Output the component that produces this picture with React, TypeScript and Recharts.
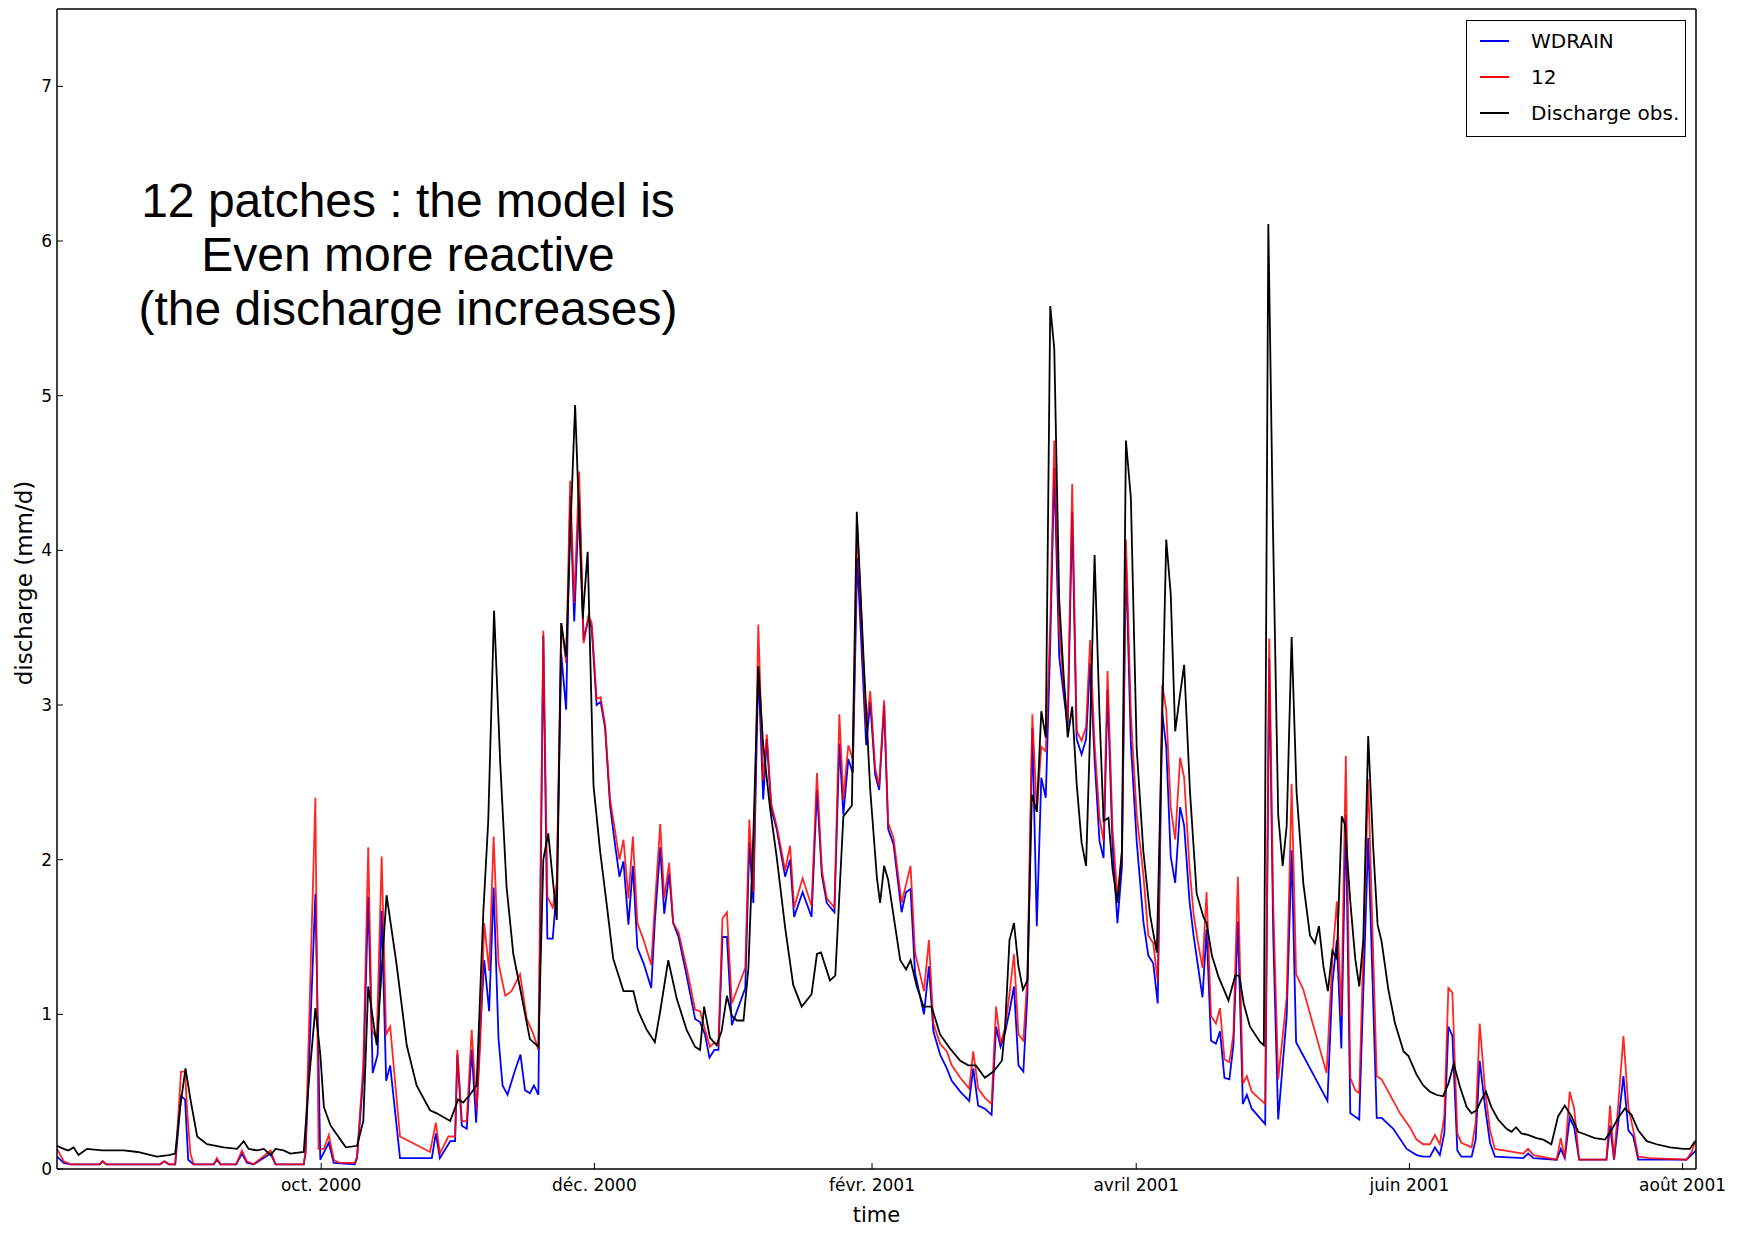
import React from 'react';
import { LineChart, Line, XAxis, YAxis } from 'recharts';

// day 0 = 3 Aug 2000, one step per day
const WDRAIN: [number, number][] = [
  [0, 0.08], [1.5, 0.04], [3, 0.03], [9.5, 0.03], [10.2, 0.05], [11, 0.03], [23, 0.03], [24, 0.05], [25, 0.03],
  [26.4, 0.03], [27.7, 0.47], [28.6, 0.45], [29.3, 0.06], [30.5, 0.03], [35, 0.03], [35.7, 0.06], [36.5, 0.03],
  [40, 0.03], [41.3, 0.1], [42.4, 0.04], [43.9, 0.03], [47.7, 0.1], [48.8, 0.03], [55.1, 0.03], [55.5, 0.1],
  [57.7, 1.78], [58.8, 0.06], [60.7, 0.17], [61.8, 0.04], [66.5, 0.03], [67, 0.07], [68.4, 0.6], [69.5, 1.76],
  [70.5, 0.62], [71.6, 0.74], [72.5, 1.67], [73.5, 0.57], [74.4, 0.67], [76.6, 0.07], [83.7, 0.07], [84.6, 0.23],
  [85.5, 0.07], [87.8, 0.18], [88.9, 0.18], [89.4, 0.74], [90.4, 0.28], [91.5, 0.26], [92.6, 0.77], [93.6, 0.3],
  [94.5, 0.9], [95.4, 1.35], [96.5, 1.02], [97.5, 1.82], [98.6, 0.84], [99.5, 0.54], [100.6, 0.48], [102.3, 0.64],
  [103.5, 0.74], [104.5, 0.51], [105.6, 0.49], [106.5, 0.54], [107.5, 0.48], [108.6, 3.45], [109.5, 1.49],
  [110.7, 1.49], [111.6, 1.82], [112.6, 3.33], [113.7, 2.97], [114.6, 4.35], [115.5, 3.54], [116.6, 4.35],
  [117.6, 3.42], [118.7, 3.56], [119.4, 3.5], [120.5, 3.0], [121.4, 3.02], [122.4, 2.85], [123.5, 2.35],
  [124.6, 2.1], [125.6, 1.89], [126.5, 1.99], [127.6, 1.58], [128.6, 1.96], [129.6, 1.43], [131, 1.33],
  [132.7, 1.17], [133.5, 1.6], [134.7, 2.08], [135.6, 1.65], [136.7, 1.91], [137.6, 1.59], [138.8, 1.5],
  [140.6, 1.25], [142.5, 0.97], [143.6, 0.95], [144.7, 0.87], [145.7, 0.72], [146.8, 0.77], [147.7, 0.77],
  [148.6, 1.5], [149.6, 1.5], [150.7, 0.93], [153.7, 1.17], [154.6, 2.11], [155.5, 1.72], [156.6, 3.25],
  [157.7, 2.39], [158.5, 2.78], [159.5, 2.33], [160.7, 2.2], [162.6, 1.89], [163.7, 2.0], [164.6, 1.63],
  [166.5, 1.79], [168.5, 1.63], [169.7, 2.45], [170.8, 1.9], [171.9, 1.72], [173.6, 1.66], [174.7, 2.75],
  [175.6, 2.29], [176.7, 2.65], [177.7, 2.56], [178.7, 3.95], [180.7, 2.74], [181.6, 3.02], [182.7, 2.55],
  [183.6, 2.45], [184.7, 3.0], [185.6, 2.2], [186.8, 2.1], [188.6, 1.66], [189.6, 1.79], [190.6, 1.81],
  [191.6, 1.27], [193.6, 1.0], [194.7, 1.31], [195.7, 0.89], [197.2, 0.74], [198.7, 0.65], [199.8, 0.57],
  [201.7, 0.5], [203.7, 0.44], [204.6, 0.65], [205.7, 0.41], [207.2, 0.39], [208.7, 0.35], [209.7, 0.92],
  [210.7, 0.79], [211.7, 0.88], [212.7, 1.02], [213.7, 1.18], [214.7, 0.67], [215.8, 0.63], [216.7, 1.13],
  [217.8, 2.85], [218.8, 1.57], [219.8, 2.53], [220.8, 2.4], [221.8, 3.4], [222.7, 4.53], [223.8, 3.31],
  [224.7, 3.09], [225.7, 2.86], [226.7, 4.25], [227.7, 2.78], [228.8, 2.68], [229.8, 2.78], [230.7, 3.27],
  [231.7, 2.65], [232.8, 2.12], [233.7, 2.01], [234.6, 3.1], [235.7, 2.1], [236.8, 1.59], [237.8, 1.95],
  [238.7, 3.95], [239.8, 2.75], [241.1, 2.12], [242.6, 1.6], [243.7, 1.38], [244.8, 1.33], [245.8, 1.07],
  [246.8, 2.95], [247.7, 2.73], [248.7, 2.02], [249.7, 1.85], [250.8, 2.34], [251.7, 2.22], [252.9, 1.73],
  [253.8, 1.51], [254.7, 1.33], [255.8, 1.11], [256.7, 1.55], [257.7, 0.83], [258.8, 0.81], [259.7, 0.89],
  [260.7, 0.59], [261.8, 0.58], [262.7, 0.8], [263.7, 1.6], [264.8, 0.42], [265.7, 0.48], [266.8, 0.39],
  [269.8, 0.29], [270.7, 3.3], [271.6, 1.5], [272.7, 0.32], [274.6, 0.99], [275.7, 2.06], [276.7, 0.82],
  [283.7, 0.44], [284.8, 1.2], [285.8, 1.48], [286.8, 0.78], [287.8, 2.29], [288.8, 0.36], [290.8, 0.32],
  [292.8, 2.14], [294.7, 0.33], [295.8, 0.33], [298.4, 0.26], [301.4, 0.13], [303.6, 0.09], [305.1, 0.08],
  [306.6, 0.08], [307.7, 0.14], [308.8, 0.09], [309.8, 0.23], [310.7, 0.92], [311.6, 0.86], [312.7, 0.12],
  [313.6, 0.08], [315.9, 0.08], [316.8, 0.19], [317.7, 0.7], [318.9, 0.4], [320, 0.17], [321.1, 0.08],
  [327.4, 0.07], [328.5, 0.1], [329.7, 0.07], [334.9, 0.06], [335.8, 0.13], [336.7, 0.07], [337.8, 0.33],
  [338.8, 0.27], [339.9, 0.06], [346, 0.06], [346.8, 0.28], [347.7, 0.06], [349.8, 0.6], [350.9, 0.25],
  [352, 0.21], [353.1, 0.06], [363.9, 0.06], [366, 0.12],
];

const PATCHES_12: [number, number][] = [
  [0, 0.13], [1.5, 0.05], [3, 0.03], [9.5, 0.03], [10.2, 0.05], [11, 0.03], [23, 0.03], [24, 0.05], [25, 0.03],
  [26.4, 0.03], [27.7, 0.63], [28.6, 0.63], [29.1, 0.36], [29.8, 0.1], [30.5, 0.03], [35, 0.03], [35.7, 0.07],
  [36.5, 0.03], [40, 0.03], [40.6, 0.07], [41.3, 0.12], [42.4, 0.05], [43.9, 0.03], [47.7, 0.12], [48.8, 0.03],
  [55.1, 0.03], [55.5, 0.12], [57.7, 2.4], [58.4, 0.13], [59.6, 0.13], [60.7, 0.22], [61.8, 0.06], [63, 0.04],
  [66.5, 0.04], [67, 0.08], [68.4, 0.67], [69.5, 2.08], [70.3, 0.9], [71.4, 0.84], [72.5, 2.02], [73.5, 0.87],
  [74.4, 0.92], [76.6, 0.21], [83.3, 0.11], [84.6, 0.3], [85.5, 0.1], [87.4, 0.21], [88.9, 0.21], [89.4, 0.77],
  [90.4, 0.31], [91.5, 0.31], [92.6, 0.9], [93.7, 0.38], [94.5, 0.8], [95.4, 1.59], [96.5, 1.28], [97.5, 2.15],
  [98.6, 1.33], [100.1, 1.12], [101.5, 1.15], [103.4, 1.26], [104.9, 0.97], [106.4, 0.87], [107.5, 0.77],
  [108.6, 3.48], [109.5, 1.76], [110.7, 1.69], [111.6, 1.85], [112.6, 3.53], [113.7, 3.27], [114.6, 4.45],
  [115.5, 3.66], [116.6, 4.51], [117.6, 3.4], [118.7, 3.58], [119.4, 3.53], [120.5, 3.04], [121.4, 3.05],
  [122.4, 2.87], [123.5, 2.39], [124.6, 2.19], [125.6, 2.0], [126.5, 2.13], [127.6, 1.75], [128.6, 2.15],
  [129.6, 1.59], [131, 1.48], [132.7, 1.32], [133.5, 1.7], [134.7, 2.23], [135.6, 1.75], [136.7, 1.98],
  [137.6, 1.59], [138.8, 1.53], [140.6, 1.3], [142.5, 1.03], [143.6, 1.02], [144.7, 0.9], [145.8, 0.79],
  [146.8, 0.82], [147.7, 0.8], [148.6, 1.62], [149.6, 1.66], [150.7, 1.07], [153.7, 1.3], [154.6, 2.26],
  [155.5, 1.79], [156.6, 3.52], [157.7, 2.51], [158.5, 2.81], [159.5, 2.36], [160.7, 2.22], [162.6, 1.93],
  [163.7, 2.09], [164.6, 1.69], [166.5, 1.88], [168.5, 1.7], [169.7, 2.56], [170.8, 1.93], [171.9, 1.75],
  [173.6, 1.69], [174.7, 2.94], [175.6, 2.39], [176.7, 2.74], [177.7, 2.65], [178.7, 4.17], [180.7, 2.85],
  [181.6, 3.09], [182.7, 2.59], [183.6, 2.48], [184.7, 3.03], [185.6, 2.24], [186.8, 2.14], [188.6, 1.72],
  [190.6, 1.96], [191.6, 1.4], [193.6, 1.15], [194.7, 1.48], [195.7, 0.94], [197.2, 0.81], [198.7, 0.76],
  [199.8, 0.67], [201.7, 0.59], [203.7, 0.52], [204.6, 0.76], [205.7, 0.52], [207.2, 0.46], [208.7, 0.42],
  [209.7, 1.05], [210.7, 0.81], [211.7, 0.91], [212.7, 1.13], [213.7, 1.39], [214.7, 0.87], [215.8, 0.83],
  [216.7, 1.24], [217.8, 2.94], [218.8, 2.31], [219.8, 2.73], [220.8, 2.7], [221.8, 3.53], [222.7, 4.71],
  [223.8, 3.49], [224.7, 3.16], [225.7, 2.9], [226.7, 4.43], [227.7, 2.83], [228.8, 2.77], [229.8, 2.86],
  [230.7, 3.42], [231.7, 2.75], [232.8, 2.27], [233.7, 2.12], [234.6, 3.22], [235.7, 2.2], [236.8, 1.76],
  [237.8, 2.05], [238.7, 4.07], [239.8, 2.94], [241.1, 2.29], [242.6, 1.9], [243.7, 1.51], [244.8, 1.46],
  [245.8, 1.21], [246.8, 3.13], [247.7, 2.97], [248.7, 2.34], [249.7, 2.13], [250.8, 2.66], [251.7, 2.53],
  [252.9, 1.95], [253.8, 1.65], [254.7, 1.48], [255.8, 1.3], [256.7, 1.79], [257.7, 0.99], [258.8, 0.94],
  [259.7, 1.04], [260.7, 0.71], [261.8, 0.69], [262.7, 0.87], [263.7, 1.89], [264.8, 0.55], [265.7, 0.6],
  [266.8, 0.5], [269.8, 0.42], [270.7, 3.43], [271.6, 1.7], [272.7, 0.58], [274.6, 1.11], [275.7, 2.49],
  [276.7, 1.26], [278.3, 1.16], [283.5, 0.62], [284.8, 1.36], [285.8, 1.73], [286.8, 0.99], [287.8, 2.67],
  [288.8, 0.59], [289.9, 0.51], [290.8, 0.49], [292.8, 2.52], [294.7, 0.6], [295.8, 0.58], [299.9, 0.36],
  [302.1, 0.27], [303.6, 0.19], [305.1, 0.16], [306.6, 0.16], [307.7, 0.22], [308.8, 0.16], [309.8, 0.34],
  [310.7, 1.17], [311.6, 1.14], [312.7, 0.23], [313.6, 0.17], [315.9, 0.14], [316.8, 0.3], [317.7, 0.94],
  [318.9, 0.51], [320, 0.25], [321.1, 0.13], [327.4, 0.1], [328.5, 0.13], [329.7, 0.09], [334.9, 0.06],
  [335.8, 0.2], [336.7, 0.07], [337.8, 0.5], [338.8, 0.39], [339.9, 0.06], [346, 0.06], [346.8, 0.41],
  [347.7, 0.06], [349.8, 0.86], [350.9, 0.4], [352, 0.25], [353.1, 0.08], [355.7, 0.07], [363.9, 0.06],
  [365, 0.11], [366, 0.19],
];

const DISCHARGE_OBS: [number, number][] = [
  [0, 0.15], [1.5, 0.13], [2.5, 0.12], [3.7, 0.14], [4.8, 0.09], [6.7, 0.13], [10, 0.12], [14.9, 0.12],
  [18, 0.11], [22.3, 0.08], [25, 0.09], [26.4, 0.1], [27.5, 0.4], [28.7, 0.65], [29.8, 0.45], [31.3, 0.21],
  [33.5, 0.16], [37.2, 0.14], [40.2, 0.13], [41.7, 0.18], [42.8, 0.13], [44.7, 0.12], [46.2, 0.13], [47.7, 0.09],
  [48.8, 0.13], [50.6, 0.12], [52.1, 0.1], [55.1, 0.11], [56.2, 0.55], [57.7, 1.04], [58.8, 0.74], [59.6, 0.4],
  [61.1, 0.28], [63.3, 0.19], [64.5, 0.14], [67, 0.15], [68.4, 0.31], [69.5, 1.18], [71.4, 0.8], [73.6, 1.77],
  [75.8, 1.33], [78.1, 0.8], [80.3, 0.54], [83.3, 0.38], [84.8, 0.36], [87.8, 0.31], [89.6, 0.45], [90.7, 0.43],
  [92.2, 0.48], [93.7, 0.54], [95.2, 1.66], [96.3, 2.25], [97.6, 3.61], [99, 2.61], [100.4, 1.82], [101.9, 1.39],
  [103.4, 1.17], [105.6, 0.84], [107.5, 0.79], [108.6, 2.0], [109.7, 2.17], [111.6, 1.61], [112.6, 3.53],
  [113.7, 3.31], [114.6, 4.1], [115.7, 4.94], [117.4, 3.56], [118.5, 3.99], [119.8, 2.48], [121.3, 2.05],
  [122.8, 1.7], [124.2, 1.36], [126.5, 1.15], [128.7, 1.15], [129.8, 1.02], [131.7, 0.9], [133.5, 0.82],
  [134.7, 1.02], [136.5, 1.35], [138.4, 1.1], [140.6, 0.9], [142.5, 0.79], [143.6, 0.77], [144.5, 1.05],
  [145.8, 0.85], [147.3, 0.8], [148.4, 0.89], [149.6, 1.12], [150.7, 0.99], [151.8, 0.96], [153.3, 0.96],
  [154.4, 1.3], [155.5, 2.16], [156.6, 3.25], [157.7, 2.74], [159.2, 2.34], [160.7, 2.02], [162.6, 1.56],
  [164.4, 1.19], [166.3, 1.05], [168.5, 1.13], [169.7, 1.39], [170.6, 1.4], [172.6, 1.22], [173.8, 1.25],
  [174.9, 1.88], [175.6, 2.28], [177.5, 2.35], [178.6, 4.25], [180.1, 3.31], [181.6, 2.45], [183.1, 1.88],
  [183.8, 1.72], [184.7, 1.96], [185.6, 1.87], [186.8, 1.64], [188.3, 1.35], [189.6, 1.29], [190.6, 1.35],
  [192, 1.18], [193.5, 1.05], [195.3, 1.05], [197.2, 0.87], [199.4, 0.78], [201.7, 0.7], [203.5, 0.67],
  [205.2, 0.67], [207.2, 0.59], [209.1, 0.63], [211, 0.7], [211.7, 0.91], [212.7, 1.48], [213.7, 1.59],
  [214.7, 1.31], [215.7, 1.16], [216.7, 1.22], [217.7, 2.42], [218.8, 2.31], [219.8, 2.96], [220.8, 2.79],
  [221.8, 5.58], [222.7, 5.3], [223.8, 3.68], [224.7, 3.23], [225.7, 2.79], [226.7, 2.99], [227.7, 2.49],
  [228.8, 2.11], [229.8, 1.96], [230.7, 2.83], [231.7, 3.97], [232.8, 2.94], [233.7, 2.25], [234.8, 2.27],
  [235.7, 1.94], [236.8, 1.72], [237.8, 2.05], [238.7, 4.71], [239.8, 4.34], [241.1, 2.72], [242.6, 2.05],
  [244.1, 1.64], [245.6, 1.4], [246.8, 2.9], [247.7, 4.07], [248.7, 3.72], [249.7, 2.83], [250.7, 3.05],
  [251.7, 3.26], [253, 2.44], [254.5, 1.78], [256, 1.63], [256.7, 1.59], [257.9, 1.38], [259.4, 1.24],
  [261.6, 1.09], [263.1, 1.25], [264, 1.25], [265, 1.07], [266.4, 0.92], [268.7, 0.82], [269.5, 0.8],
  [270.5, 6.11], [271.5, 4.2], [272.7, 2.29], [273.7, 1.96], [274.6, 2.22], [275.7, 3.44], [276.8, 2.44],
  [278.3, 1.85], [279.8, 1.51], [280.9, 1.46], [281.8, 1.57], [282.8, 1.31], [283.8, 1.15], [284.8, 1.41],
  [285.8, 1.36], [286.9, 2.28], [287.6, 2.23], [288.8, 1.73], [289.9, 1.36], [290.8, 1.18], [291.7, 1.48],
  [292.8, 2.8], [293.9, 2.09], [294.9, 1.58], [295.8, 1.47], [297.3, 1.16], [298.8, 0.94], [300.7, 0.76],
  [301.8, 0.73], [303.6, 0.61], [305.1, 0.54], [306.6, 0.5], [308, 0.48], [309.5, 0.47], [310.7, 0.55],
  [311.9, 0.68], [313.3, 0.53], [314.8, 0.4], [315.9, 0.36], [317, 0.38], [318.1, 0.45], [319.1, 0.5],
  [320.3, 0.4], [321.8, 0.32], [323.7, 0.26], [324.8, 0.24], [325.8, 0.27], [327, 0.23], [328.5, 0.22],
  [330.4, 0.2], [331.9, 0.19], [333.7, 0.16], [335.2, 0.34], [336.7, 0.41], [338.2, 0.34], [339.7, 0.24],
  [341.6, 0.22], [343.4, 0.2], [345.7, 0.19], [347.1, 0.25], [348.6, 0.33], [350.1, 0.39], [351.6, 0.35],
  [353.1, 0.25], [355, 0.18], [357.2, 0.16], [360.2, 0.14], [363.2, 0.13], [364.6, 0.13], [365.8, 0.18],
];

const MONTH_TICKS = [59, 120, 182, 241, 302, 363];
const MONTH_LABELS = ['oct. 2000', 'déc. 2000', 'févr. 2001', 'avril 2001', 'juin 2001', 'août 2001'];
const Y_TICKS = [0, 1, 2, 3, 4, 5, 6, 7];
const NOTE_LINES = ['12 patches : the model is', 'Even more reactive', '(the discharge increases)'];

const SERIES = [
  { name: 'WDRAIN', color: '#0000ff', opacity: 1, points: WDRAIN },
  { name: '12', color: '#ff0000', opacity: 0.85, points: PATCHES_12 },
  { name: 'Discharge obs.', color: '#000000', opacity: 1, points: DISCHARGE_OBS },
];

const FONT = "'DejaVu Sans', sans-serif";
const tickStyle = { fill: '#000', fontSize: 17, fontFamily: FONT };
const axisLine = { stroke: '#000', strokeWidth: 1.5 };
const tickLine = { stroke: '#000', strokeWidth: 1 };

const App: React.FC = () => {
  return (
    <div style={{ position: 'absolute', left: 0, top: 0, width: 1748, height: 1239, background: '#fff' }}>
      <LineChart width={1748} height={1239} margin={{ top: 8, right: 51, bottom: 0, left: 0 }}>
        <XAxis
          type="number"
          dataKey="day"
          domain={[0, 366]}
          allowDataOverflow
          ticks={MONTH_TICKS}
          interval={0}
          tickFormatter={(d: number) => MONTH_LABELS[MONTH_TICKS.indexOf(d)]}
          height={70}
          tickSize={-6}
          tickMargin={16}
          tick={tickStyle}
          axisLine={axisLine}
          tickLine={tickLine}
          label={{
            content: (props: any) => {
              const vb = props.viewBox || { x: 57, y: 1169, width: 1639 };
              return (
                <text x={vb.x + vb.width / 2} y={vb.y + 46} textAnchor="middle" dominantBaseline="central"
                  fontSize={21} fontFamily={FONT} fill="#000">time</text>
              );
            },
          }}
        />
        {/* top spine with inward ticks */}
        <XAxis
          xAxisId="top"
          orientation="top"
          type="number"
          domain={[0, 366]}
          allowDataOverflow
          ticks={MONTH_TICKS}
          interval={0}
          height={1}
          tickSize={-6}
          tick={false}
          axisLine={axisLine}
          tickLine={tickLine}
        />
        <YAxis
          type="number"
          domain={[0, 7.5]}
          allowDataOverflow
          ticks={Y_TICKS}
          interval={0}
          width={57}
          tickSize={-6}
          tickMargin={11}
          tick={tickStyle}
          axisLine={axisLine}
          tickLine={tickLine}
          label={{
            content: (props: any) => {
              const vb = props.viewBox || { x: 0, y: 9, height: 1160 };
              const cx = 24;
              const cy = vb.y + vb.height / 2 - 6;
              return (
                <text x={cx} y={cy} transform={`rotate(-90, ${cx}, ${cy})`} textAnchor="middle"
                  dominantBaseline="central" fontSize={23} fontFamily={FONT} fill="#000">discharge (mm/d)</text>
              );
            },
          }}
        />
        {/* right spine with inward ticks */}
        <YAxis
          yAxisId="right"
          orientation="right"
          type="number"
          domain={[0, 7.5]}
          allowDataOverflow
          ticks={Y_TICKS}
          interval={0}
          width={1}
          tickSize={-6}
          tick={false}
          axisLine={axisLine}
          tickLine={tickLine}
        />
        {SERIES.map((s) => (
          <Line
            key={s.name}
            name={s.name}
            data={s.points.map(([day, v]) => ({ day, v }))}
            dataKey="v"
            type="linear"
            stroke={s.color}
            strokeOpacity={s.opacity}
            strokeWidth={1.8}
            dot={false}
            activeDot={false}
            isAnimationActive={false}
          />
        ))}
      </LineChart>

      {/* annotation */}
      <div
        style={{
          position: 'absolute',
          left: 108,
          top: 174,
          width: 600,
          textAlign: 'center',
          fontFamily: "'Liberation Sans', Arial, sans-serif",
          fontSize: 48,
          lineHeight: '54px',
          color: '#000',
        }}
      >
        {NOTE_LINES.map((t) => (
          <div key={t}>{t}</div>
        ))}
      </div>

      {/* legend */}
      <div
        style={{
          position: 'absolute',
          left: 1466,
          top: 20,
          width: 220,
          height: 117,
          boxSizing: 'border-box',
          border: '1.5px solid #000',
          background: '#fff',
          fontFamily: FONT,
          fontSize: 20,
          color: '#000',
        }}
      >
        {SERIES.map((s, i) => (
          <div key={s.name} style={{ position: 'absolute', left: 0, top: 2 + i * 36, height: 36, width: '100%' }}>
            <div style={{ position: 'absolute', left: 13, top: 17, width: 29, height: 2, background: s.color }} />
            <div style={{ position: 'absolute', left: 64, top: 0, lineHeight: '36px', whiteSpace: 'nowrap' }}>{s.name}</div>
          </div>
        ))}
      </div>
    </div>
  );
};

export default App;
